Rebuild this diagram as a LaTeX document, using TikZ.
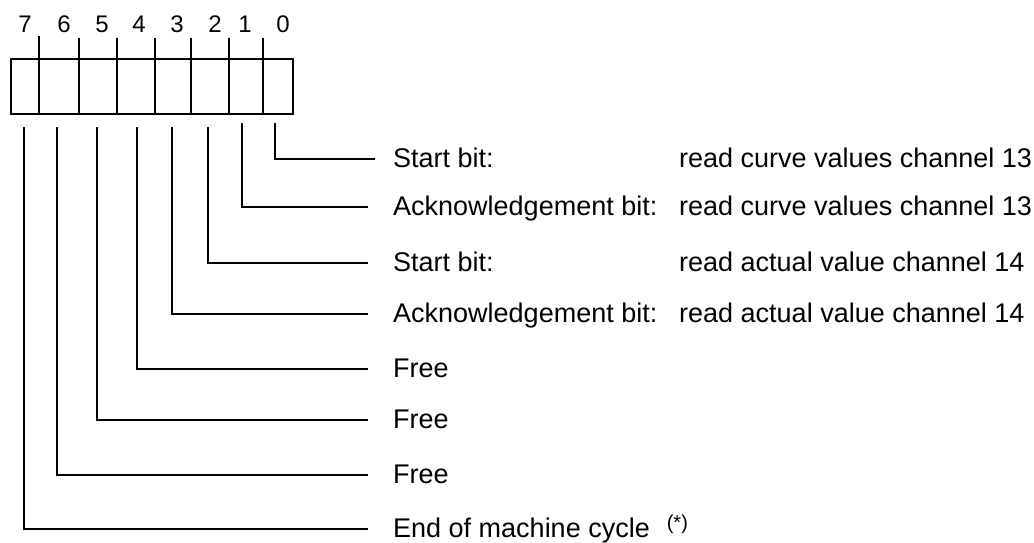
\documentclass[tikz,border=0pt]{standalone}
\usepackage{fontspec}
\setmainfont{Liberation Sans}
\begin{document}
\begin{tikzpicture}[x=1pt,y=-1pt,
  wire/.style={line width=2.2pt},
  lbl/.style={anchor=base west, inner sep=0pt, font=\fontsize{27}{30}\selectfont},
  bitnum/.style={anchor=base, inner sep=0pt, font=\fontsize{24}{26}\selectfont}]
\useasboundingbox (0,0) rectangle (1034,543);
% register box
\node[draw, wire, minimum width=282pt, minimum height=55pt, inner sep=0pt, anchor=north west] (reg) at (10,58) {};
\foreach \x/\t in {39/36,79/38,117/38,155/38,191/38,229/38,263/38}
  \draw[wire] (\x,\t) -- (\x,113);
% bit numbers
\foreach \b/\x in {7/25,6/64,5/102,4/139,3/177,2/215,1/245,0/283}
  \node[bitnum] (n\b) at (\x,33) {\b};
% connector coordinates
\foreach \b/\x/\t/\y/\e in {0/275/123/159/375,1/242/123/207/368,2/208/127/263/368,3/172/127/314/368,
                            4/137/127/369/368,5/97/127/420/368,6/57/127/475/368,7/24/127/529/368}{
  \coordinate (t\b) at (\x,\t);
  \coordinate (e\b) at (\e,\y);
  \draw[wire] (t\b) |- (e\b);
}
% labels
\node[lbl] (l0) at (393,167) {Start bit:};
\node[lbl] (l1) at (393,215) {Acknowledgement bit:};
\node[lbl] (l2) at (393,271) {Start bit:};
\node[lbl] (l3) at (393,322) {Acknowledgement bit:};
\node[lbl] (l4) at (393,377) {Free};
\node[lbl] (l5) at (393,428) {Free};
\node[lbl] (l6) at (393,483) {Free};
\node[lbl] (l7) at (393,537) {End of machine cycle\hspace{17pt}\raisebox{8pt}{\fontsize{20}{22}\selectfont(*)}};
\node[lbl] (r0) at (679,167) {read curve values channel 13};
\node[lbl] (r1) at (679,215) {read curve values channel 13};
\node[lbl] (r2) at (679,271) {read actual value channel 14};
\node[lbl] (r3) at (679,322) {read actual value channel 14};
\end{tikzpicture}
\end{document}
